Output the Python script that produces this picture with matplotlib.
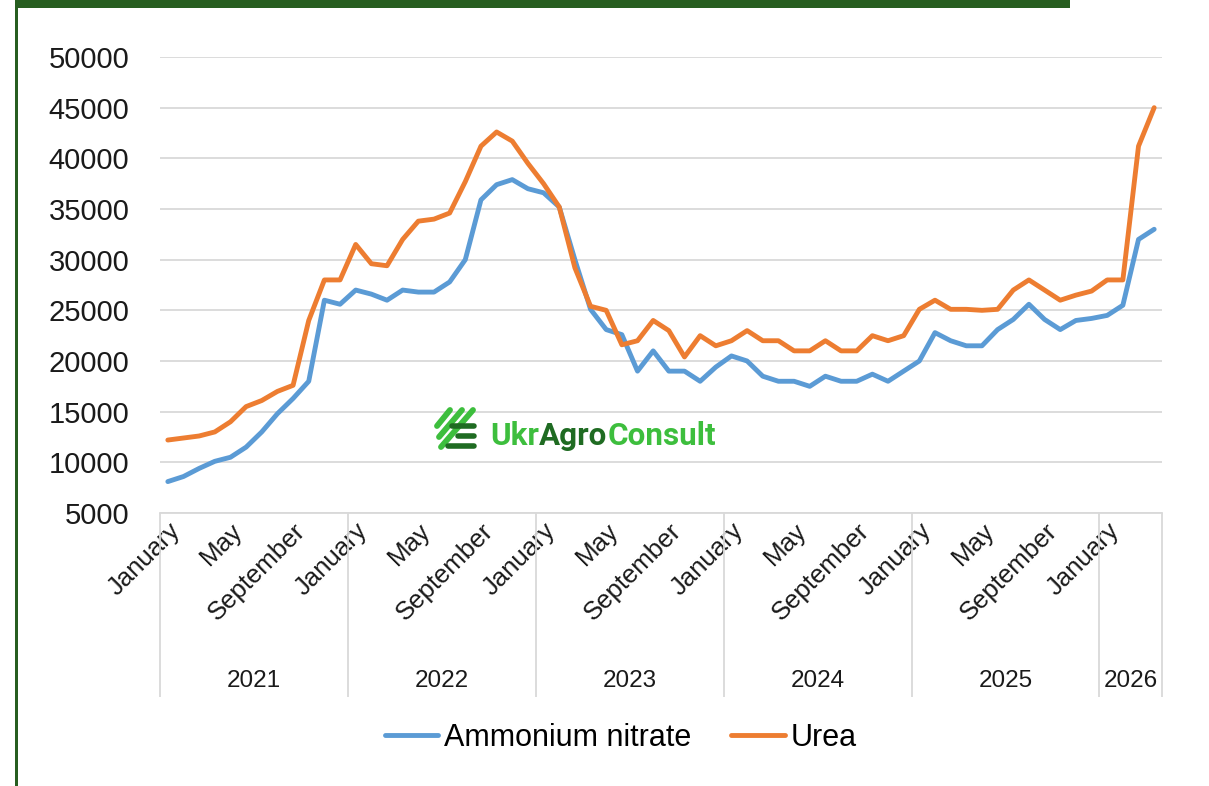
import matplotlib.pyplot as plt
from matplotlib.lines import Line2D
from matplotlib.patches import Rectangle
import numpy as np

plt.rcParams["font.family"] = ["Liberation Sans", "DejaVu Sans"]

years = ["2021", "2022", "2023", "2024", "2025", "2026"]
months_per_year = [12, 12, 12, 12, 12, 4]
month_names = ["January", "February", "March", "April", "May", "June", "July",
               "August", "September", "October", "November", "December"]

ammonium_nitrate = [
    8100, 8600, 9400, 10100, 10500, 11500, 13000, 14800, 16300, 18000, 26000, 25600,
    27000, 26600, 26000, 27000, 26800, 26800, 27800, 30000, 35900, 37400, 37900, 37000,
    36600, 35200, 30000, 25100, 23100, 22600, 19000, 21000, 19000, 19000, 18000, 19400,
    20500, 20000, 18500, 18000, 18000, 17500, 18500, 18000, 18000, 18700, 18000, 19000,
    20000, 22800, 22000, 21500, 21500, 23100, 24100, 25600, 24100, 23100, 24000, 24200,
    24500, 25500, 32000, 33000,
]
urea = [
    12200, 12400, 12600, 13000, 14000, 15500, 16100, 17000, 17600, 24000, 28000, 28000,
    31500, 29600, 29400, 32000, 33800, 34000, 34600, 37700, 41200, 42600, 41700, 39500,
    37500, 35200, 29200, 25400, 25000, 21600, 22000, 24000, 23000, 20400, 22500, 21500,
    22000, 23000, 22000, 22000, 21000, 21000, 22000, 21000, 21000, 22500, 22000, 22500,
    25100, 26000, 25100, 25100, 25000, 25100, 27000, 28000, 27000, 26000, 26500, 26900,
    28000, 28000, 41200, 45000,
]

month_labels = []
for n in months_per_year:
    month_labels += month_names[:n]

W, H = 1209, 786
fig = plt.figure(figsize=(W / 100, H / 100), dpi=100)
ax = fig.add_axes([160 / W, 1 - 513 / H, 1002 / W, 456 / H])

x = np.arange(len(urea))
ax.plot(x, ammonium_nitrate, color="#5B9BD5", lw=3.5, solid_joinstyle="round",
        solid_capstyle="round", label="Ammonium nitrate")
ax.plot(x, urea, color="#ED7D31", lw=3.5, solid_joinstyle="round",
        solid_capstyle="round", label="Urea")

ax.set_xlim(-0.5, len(x) - 0.5)
ax.set_ylim(5000, 50000)
ax.set_yticks(range(5000, 50001, 5000))
ax.grid(axis="y", color="#D9D9D9", lw=1.3)
ax.set_axisbelow(True)
for s in ["top", "right", "left"]:
    ax.spines[s].set_visible(False)
ax.spines["bottom"].set_color("#D9D9D9")
ax.spines["bottom"].set_linewidth(1.3)
ax.tick_params(axis="y", length=0, pad=22, labelsize=21, labelcolor="#1a1a1a")
ax.tick_params(axis="x", length=0, pad=4, labelsize=18.5, labelcolor="#1a1a1a")
ax.set_xticks(x[::4])
ax.set_xticklabels([month_labels[i] for i in x[::4]], rotation=45, ha="right",
                   va="top", rotation_mode="anchor")

# year level of the category axis
bounds = np.concatenate([[0], np.cumsum(months_per_year)])
ax.vlines(bounds - 0.5, -0.4035, 0, transform=ax.get_xaxis_transform(),
          colors="#D9D9D9", lw=1.3, clip_on=False)
for i, yr in enumerate(years):
    ax.text((bounds[i] + bounds[i + 1]) / 2 - 0.5, -0.368, yr,
            transform=ax.get_xaxis_transform(), ha="center", va="center",
            fontsize=17.5, color="#1a1a1a")

fig.legend(loc="center", bbox_to_anchor=(621 / W, 1 - 738 / H), ncol=2,
           frameon=False, fontsize=22, handlelength=1.75, handletextpad=0.2,
           columnspacing=1.3)

# frame decoration
fig.patches.append(Rectangle((15 / W, 1 - 8 / H), 1055 / W, 8 / H,
                             transform=fig.transFigure, color="#275E20", lw=0))
fig.patches.append(Rectangle((15 / W, 0), 3 / W, 1, transform=fig.transFigure,
                             color="#275E20", lw=0))

# watermark logo
light, dark = "#3DBE3D", "#1F6B22"
def px(xp, yp):
    return xp / W, 1 - yp / H
for (x0, y0), (x1, y1) in [((437, 426), (450, 410)), ((439, 437), (462, 410)),
                           ((441, 447), (473, 410))]:
    fig.add_artist(Line2D(*zip(px(x0, y0), px(x1, y1)), color=light, lw=4.2,
                          transform=fig.transFigure, solid_capstyle="round"))
for yy, xa in [(426, 452), (436, 458), (446, 448)]:
    fig.add_artist(Line2D(*zip(px(xa, yy), px(474, yy)), color=dark, lw=4.0,
                          transform=fig.transFigure, solid_capstyle="round"))

fig.canvas.draw()
r = fig.canvas.get_renderer()
logo_parts = [("Ukr", light), ("Agro", dark), ("Consult", light)]
size = 22
probe = fig.text(0, 0, "UkrAgroConsult", fontsize=size, fontweight="bold",
                 family=["Roboto", "DejaVu Sans"])
size *= 225 / probe.get_window_extent(r).width
probe.remove()
xpos = 490
for part, c in logo_parts:
    t = fig.text(*px(xpos, 445), part, color=c, fontsize=size, fontweight="bold",
                 family=["Roboto", "DejaVu Sans"], va="baseline", ha="left")
    xpos += t.get_window_extent(r).width

fig.savefig("out.png", dpi=100)
